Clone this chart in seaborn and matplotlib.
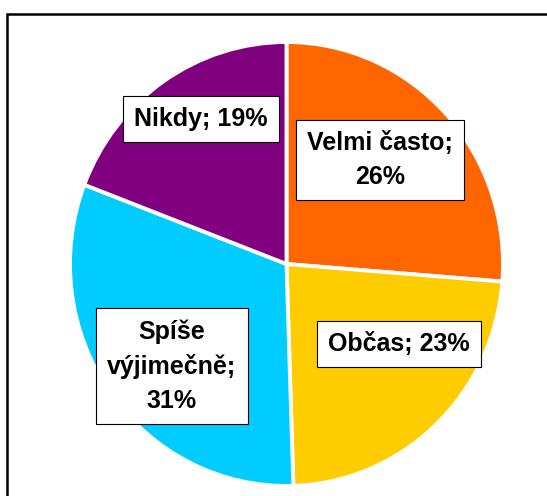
import matplotlib
matplotlib.use("Agg")
import matplotlib.pyplot as plt
import matplotlib.patches as mpatches
import seaborn as sns

sns.set_style("white")
plt.rcParams['font.family'] = ['Liberation Sans', 'DejaVu Sans']

# data
categories = ['Velmi často', 'Občas', 'Spíše\nvýjimečně', 'Nikdy']
shares = [26, 23, 31, 19]
colors = ['#FF6600', '#FFCC00', '#00CCFF', '#800080']

# label box centres in pixels (x, y from top)
label_pos = [(380, 160), (399, 344), (172, 366), (201, 119)]
label_text = ['Velmi často;\n26%', 'Občas; 23%', 'Spíše\nvýjimečně;\n31%', 'Nikdy; 19%']

W, H = 547, 496
fig = plt.figure(figsize=(W / 100, H / 100), dpi=100)

# outer chart frame (runs off right/bottom like the source)
frame = mpatches.Rectangle((7 / W, -0.05), 1.1, 1 - 14 / H + 0.05,
                           transform=fig.transFigure, fill=False,
                           edgecolor='black', linewidth=1.8)
fig.patches.append(frame)

ax = fig.add_axes([70 / W, 10 / H, 433 / W, 444 / H])
ax.pie(shares, colors=colors, startangle=90, counterclock=False,
       wedgeprops={'edgecolor': 'white', 'linewidth': 2.8})
ax.set_aspect('auto')
ax.set_xlim(-1, 1)
ax.set_ylim(-1, 1)
ax.axis('off')

for txt, (px, py) in zip(label_text, label_pos):
    fig.text(px / W, 1 - py / H, txt, ha='center', va='center',
             fontsize=18, fontweight='bold', linespacing=1.5,
             color='black', multialignment='center',
             bbox=dict(boxstyle='square,pad=0.45', facecolor='white',
                       edgecolor='black', linewidth=0.8))

fig.savefig('out.png', dpi=100)
